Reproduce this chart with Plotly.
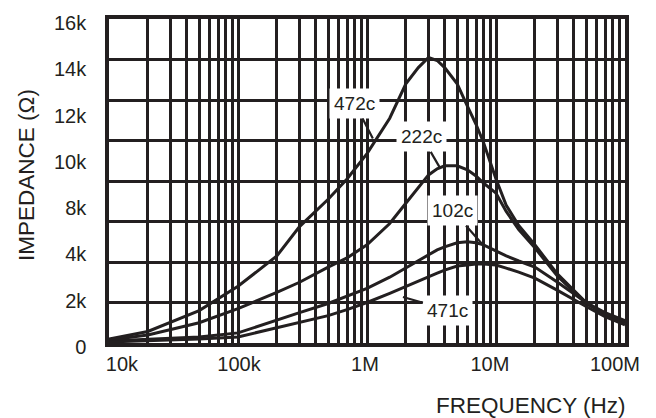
import numpy as np
import plotly.graph_objects as go

# ---- data (frequency in Hz, impedance in kOhm) ----
freq_hz = [1e4, 2e4, 5e4, 1e5, 2e5, 3e5, 5e5, 7e5, 1e6, 1.5e6, 2e6, 2.5e6, 3e6, 3.5e6,
           4e6, 5e6, 6e6, 7e6, 8e6, 1e7, 1.2e7, 1.5e7, 2e7, 3e7, 5e7, 7e7, 1e8]

z_472c = [0.2, 0.57, 1.6, 2.8, 4.3, 5.75, 7.1, 8.1, 9.35, 11.1, 12.8, 13.6, 14.1, 13.95,
          13.6, 12.8, 11.7, 10.8, 9.9, 8.1, 6.8, 5.8, 4.85, 3.4, 2.0, 1.5, 1.1]
z_222c = [0.15, 0.4, 1.0, 1.7, 2.5, 3.0, 3.75, 4.2, 4.85, 5.9, 6.9, 7.7, 8.3, 8.6,
          8.75, 8.75, 8.55, 8.25, 7.9, 7.4, 6.5, 5.6, 4.7, 3.3, 1.95, 1.45, 1.05]
z_102c = [0.1, 0.2, 0.3, 0.5, 1.15, 1.5, 1.95, 2.3, 2.7, 3.25, 3.7, 4.05, 4.35, 4.6,
          4.75, 4.95, 5.0, 4.95, 4.85, 4.55, 4.3, 4.05, 3.75, 3.0, 2.0, 1.4, 1.0]
z_471c = [0.05, 0.1, 0.2, 0.3, 0.75, 1.0, 1.35, 1.65, 2.0, 2.45, 2.8, 3.05, 3.3, 3.45,
          3.6, 3.8, 3.85, 3.9, 3.9, 3.85, 3.7, 3.5, 3.2, 2.6, 1.8, 1.3, 0.9]

series_names = ["472c", "222c", "102c", "471c"]
series_values = [z_472c, z_222c, z_102c, z_471c]

# curve-label leader tips (frequency, impedance)
label_freq = [1.11e6, 3.68e6, 7.9e6, 1.9e6]
label_imp = [10.1, 8.65, 4.85, 2.27]
label_dx = [-18, -18, -30, 45]
label_dy = [-35, -31, -34, 13]

# tick labels as printed (the printed labels sit slightly off the grid lines)
x_tick_labels = ["10k", "100k", "1M", "10M", "100M"]
x_label_log = [4.10, 5.008, 5.984, 6.953, 7.922]
y_tick_labels = ["0", "2k", "4k", "8k", "10k", "12k", "14k", "16k"]
y_label_step = 2.285  # kOhm of grid per printed label slot

INK = "#231f20"
FONT = "Liberation Sans, Arial, sans-serif"

fig = go.Figure()
for name, vals in zip(series_names, series_values):
    fig.add_trace(go.Scatter(x=freq_hz, y=vals, mode="lines", name=name,
                             line=dict(color=INK, width=3), showlegend=False))

x_grid = [m * 10 ** d for d in range(4, 8) for m in range(1, 10)] + [1e8]
x_label_pos = [10 ** v for v in x_label_log]
y_label_pos = [y_label_step * i for i in range(len(y_tick_labels))]

fig.update_layout(
    width=656, height=418,
    margin=dict(l=101, r=39, t=11, b=83),
    paper_bgcolor="white", plot_bgcolor="white",
    font=dict(family=FONT, color=INK, size=20),
    xaxis=dict(type="log", range=[4, 8], automargin=False,
               tickmode="array", tickvals=x_label_pos, ticktext=x_tick_labels,
               ticks="", showgrid=False, ticklabelstandoff=0, ticklabeloverflow="allow",
               tickfont=dict(size=20, family=FONT, color=INK),
               minor=dict(tickmode="array", tickvals=x_grid, showgrid=True,
                          gridcolor=INK, gridwidth=2.6, ticks=""),
               showline=True, linecolor=INK, linewidth=3.5, mirror=True, zeroline=False),
    yaxis=dict(range=[0, 16], automargin=False,
               tickmode="array", tickvals=y_label_pos, ticktext=y_tick_labels,
               ticks="", showgrid=False, ticklabelshift=4, ticklabelstandoff=15,
               ticklabeloverflow="allow",
               tickfont=dict(size=20, family=FONT, color=INK),
               minor=dict(tickmode="linear", tick0=0, dtick=2, showgrid=True,
                          gridcolor=INK, gridwidth=2.6, ticks=""),
               showline=True, linecolor=INK, linewidth=3.5, mirror=True, zeroline=False),
)

for name, f, z, dx, dy in zip(series_names, label_freq, label_imp, label_dx, label_dy):
    fig.add_annotation(x=np.log10(f), y=z, xref="x", yref="y", text=name,
                       showarrow=True, arrowhead=0, arrowwidth=2.2, arrowcolor=INK,
                       ax=dx, ay=dy, standoff=0, bgcolor="white", borderpad=4,
                       font=dict(size=19, family=FONT, color=INK))

fig.add_annotation(text="FREQUENCY (Hz)", xref="paper", yref="paper", x=1.006, y=-0.194,
                   xanchor="right", yanchor="middle", showarrow=False,
                   font=dict(size=22.5, family=FONT, color=INK))
fig.add_annotation(text="IMPEDANCE (Ω)", xref="paper", yref="paper", x=-0.161, y=0.5185,
                   xanchor="center", yanchor="middle", textangle=-90, showarrow=False,
                   font=dict(size=22.5, family=FONT, color=INK))

fig.write_html("out.html")
